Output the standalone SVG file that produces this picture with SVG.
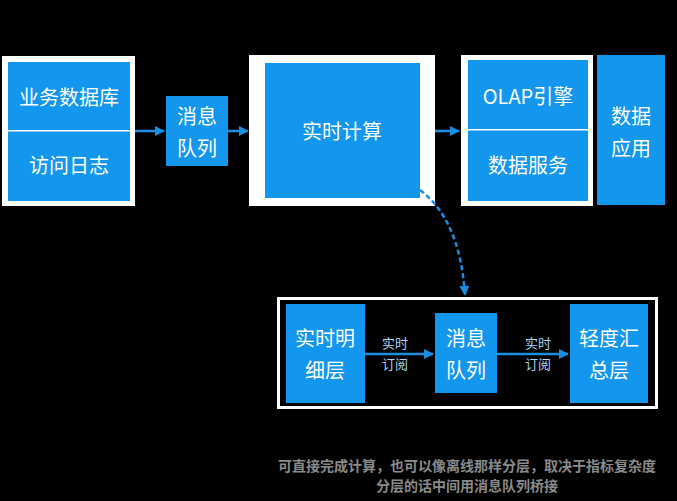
<svg xmlns="http://www.w3.org/2000/svg" width="677" height="501" viewBox="0 0 677 501">
<defs>
<style>
.b{fill:#1296ee}
.w{fill:#fff}
.t{font-family:"Noto Sans CJK SC",sans-serif;fill:#fff;font-size:20px;text-anchor:middle}
.s{font-family:"Noto Sans CJK SC",sans-serif;fill:#a8d6f6;font-size:13px;text-anchor:middle}
.n{font-family:"Noto Sans CJK SC",sans-serif;fill:#8a8a8a;font-size:14px;text-anchor:middle;font-weight:bold}
.c{stroke:#1a8fe0;stroke-width:2.5;fill:none}
</style>
<marker id="a" viewBox="0 0 10 10" refX="9" refY="5" markerWidth="4" markerHeight="4" orient="auto"><path d="M0,0L10,5L0,10z" fill="#1a8fe0"/></marker>
</defs>
<rect width="677" height="501" fill="#000"/>
<g id="src">
<rect class="w" x="2" y="56" width="133" height="150"/>
<rect class="b" x="8" y="62" width="122" height="139"/>
<rect class="w" x="8" y="130" width="122" height="1.5"/>
<text class="t" x="69" y="105">业务数据库</text>
<text class="t" x="69" y="173">访问日志</text>
</g>
<g id="mq1">
<rect class="b" x="166" y="96" width="62" height="70"/>
<text class="t" x="197" y="124">消息</text>
<text class="t" x="197" y="156">队列</text>
</g>
<g id="rt">
<rect class="w" x="249" y="55" width="186" height="151"/>
<rect class="b" x="265" y="63" width="155" height="135"/>
<text class="t" x="342" y="139">实时计算</text>
</g>
<g id="olap">
<rect class="w" x="461" y="55" width="132" height="151"/>
<rect class="b" x="468" y="60" width="120" height="141"/>
<rect class="w" x="468" y="129" width="120" height="1.5"/>
<text class="t" x="528" y="104">OLAP引擎</text>
<text class="t" x="528" y="173">数据服务</text>
</g>
<g id="app">
<rect class="b" x="597" y="55" width="68" height="150"/>
<text class="t" x="631" y="124">数据</text>
<text class="t" x="631" y="156">应用</text>
</g>
<g id="layer">
<rect x="278.5" y="298.5" width="378" height="109" fill="none" stroke="#fff" stroke-width="3"/>
</g>
<g id="dwd">
<rect class="b" x="286" y="304" width="79" height="99"/>
<text class="t" x="325" y="346">实时明</text>
<text class="t" x="325" y="378">细层</text>
</g>
<g id="mq2">
<rect class="b" x="435" y="313" width="62" height="80"/>
<text class="t" x="466" y="346">消息</text>
<text class="t" x="466" y="378">队列</text>
</g>
<g id="dws">
<rect class="b" x="570" y="304" width="78" height="99"/>
<text class="t" x="609" y="346">轻度汇</text>
<text class="t" x="609" y="378">总层</text>
</g>
<g id="edges">
<line class="c" x1="135" y1="131" x2="164" y2="131" marker-end="url(#a)"/>
<line class="c" x1="228" y1="131" x2="248" y2="131" marker-end="url(#a)"/>
<line class="c" x1="435" y1="131" x2="459" y2="131" marker-end="url(#a)"/>
<path class="c" d="M420,190 Q460,220 465,295" stroke-dasharray="5,3" marker-end="url(#a)"/>
<line class="c" x1="365" y1="354" x2="433" y2="354" marker-end="url(#a)"/>
<line class="c" x1="497" y1="354" x2="568" y2="354" marker-end="url(#a)"/>
<text class="s" x="395" y="348">实时</text>
<text class="s" x="395" y="369">订阅</text>
<text class="s" x="538" y="348">实时</text>
<text class="s" x="538" y="369">订阅</text>
</g>
<text class="n" x="467" y="471">可直接完成计算，也可以像离线那样分层，取决于指标复杂度</text>
<text class="n" x="467" y="491">分层的话中间用消息队列桥接</text>
</svg>
